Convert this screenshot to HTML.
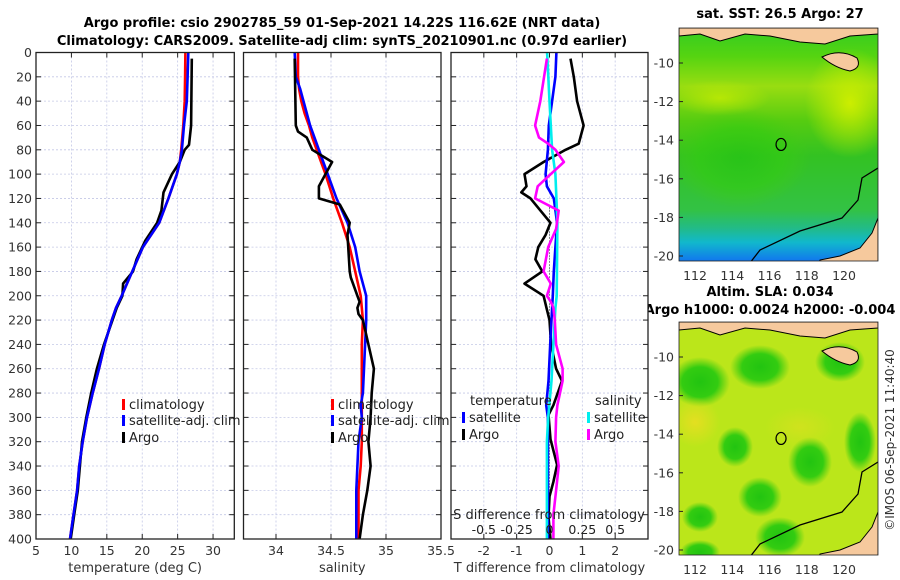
<!DOCTYPE html>
<html><head><meta charset="utf-8"><style>
body{margin:0;background:#fff;}
svg{display:block;font-family:"DejaVu Sans","Liberation Sans",sans-serif;}
</style></head><body>
<svg id="fig" width="900" height="580" viewBox="0 0 900 580" xmlns="http://www.w3.org/2000/svg">
<defs>
<linearGradient id="sstGrad" x1="0" y1="0" x2="0" y2="1">
<stop offset="0" stop-color="#33cc22"/><stop offset="0.12" stop-color="#55d411"/><stop offset="0.25" stop-color="#99dd11"/>
<stop offset="0.4" stop-color="#55cc11"/><stop offset="0.55" stop-color="#33c222"/><stop offset="0.78" stop-color="#33c244"/>
<stop offset="0.86" stop-color="#22bb88"/><stop offset="0.92" stop-color="#11b8cc"/><stop offset="1" stop-color="#1177ee"/>
</linearGradient>
<radialGradient id="yelBlob"><stop offset="0" stop-color="#ccee00"/><stop offset="1" stop-color="#ccee00" stop-opacity="0"/></radialGradient>
<radialGradient id="grnBlob"><stop offset="0" stop-color="#22c411"/><stop offset="0.6" stop-color="#33cc11"/><stop offset="1" stop-color="#44cc11" stop-opacity="0"/></radialGradient>
<radialGradient id="yBlob2"><stop offset="0" stop-color="#eedd22"/><stop offset="1" stop-color="#eedd22" stop-opacity="0"/></radialGradient>
<clipPath id="clipTop"><rect x="679" y="28" width="199" height="233"/></clipPath>
<clipPath id="clipBot"><rect x="679" y="322" width="199" height="233"/></clipPath>
</defs>
<g id="titles" font-weight="bold" font-size="13" text-anchor="middle">
<text x="342" y="27">Argo profile: csio 2902785_59 01-Sep-2021 14.22S 116.62E (NRT data)</text>
<text x="342" y="45">Climatology: CARS2009. Satellite-adj clim: synTS_20210901.nc (0.97d earlier)</text>
<text x="780" y="18">sat. SST: 26.5 Argo: 27</text>
<text x="770" y="296">Altim. SLA: 0.034</text>
<text x="770" y="314">Argo h1000: 0.0024 h2000: -0.004</text>
</g>
<g id="panels"></g>
<g id="maps"></g>
<text x="0" y="0" font-size="12" fill="#333" text-anchor="middle" transform="translate(894,440) rotate(-90)">©IMOS 06-Sep-2021 11:40:40</text>
</svg>
<script>
// ---- data ----
const tempClimDepth = [0,20,40,60,80,90,100,120,140,160,180,200,210,220,240,260,280,300,320,340,360,380,400];
const tempClim      = [26.1,26.05,26.0,25.8,25.5,25.3,24.9,23.7,22.4,20.1,18.6,17.1,16.3,15.7,14.7,13.9,13.0,12.2,11.6,11.1,10.8,10.3,9.8];
const tempSat       = [26.5,26.4,26.3,25.9,25.6,25.3,24.9,23.7,22.4,20.1,18.6,17.1,16.3,15.7,14.7,13.9,13.0,12.2,11.6,11.1,10.8,10.3,9.8];
const tempArgoDepth = [5,60,76,80,90,100,115,130,140,155,170,180,190,200,210,220,240,260,280,300,320,340,360,380,400];
const tempArgo      = [27.0,26.9,26.6,26.0,25.3,24.2,23.0,22.7,22.1,20.4,19.2,18.7,17.3,17.2,16.4,15.8,14.6,13.6,12.8,12.1,11.5,11.2,10.9,10.4,9.9];
const salDepth  = [0,20,30,40,50,60,70,80,90,100,120,140,160,180,200,210,220,240,260,280,290,300,320,340,360,380,400];
const salClim   = [34.20,34.20,34.21,34.23,34.26,34.30,34.33,34.37,34.41,34.45,34.52,34.60,34.67,34.72,34.77,34.78,34.79,34.78,34.78,34.78,34.78,34.78,34.78,34.77,34.75,34.75,34.75];
const salSat    = [34.17,34.18,34.22,34.25,34.28,34.31,34.35,34.39,34.43,34.47,34.55,34.65,34.72,34.76,34.82,34.82,34.82,34.81,34.80,34.79,34.77,34.78,34.75,34.74,34.73,34.73,34.73];
const salArgoDepth = [5,60,65,70,80,90,100,110,120,125,140,150,180,185,200,205,210,215,220,240,260,280,300,320,340,360,380,400];
const salArgo      = [34.17,34.18,34.20,34.28,34.33,34.51,34.45,34.39,34.39,34.58,34.67,34.65,34.67,34.68,34.74,34.76,34.74,34.75,34.79,34.84,34.89,34.87,34.86,34.84,34.86,34.83,34.79,34.76];
const dTDepth    = [5,20,40,60,75,80,90,100,110,115,120,140,150,160,170,180,190,200,210,220,240,260,270,280,290,298,318,339,353,365,382,400];
const dTArgo     = [0.64,0.74,0.84,1.04,0.89,0.49,-0.18,-0.76,-0.7,-0.86,-0.58,0.03,-0.12,-0.34,-0.43,-0.22,-0.76,-0.18,-0.09,0.0,0.05,0.2,0.38,0.25,0.12,-0.03,0.03,0.23,0.12,0.0,-0.03,0.03];
const dTSatDepth = [0,20,40,60,80,100,110,120,140,160,180,200,210,240,270,290,300,320,360,400];
const dTSat      = [0.21,0.18,0.08,-0.02,-0.05,-0.12,-0.08,0.13,0.23,0.18,0.13,0.1,0.08,0.02,-0.03,-0.1,-0.05,-0.05,-0.05,-0.05];
const dSSatDepth = [0,40,80,100,140,200,210,240,270,300,320,360,400];
const dSSat      = [-0.018,0.0,0.02,0.045,0.06,0.055,0.045,0.03,0.015,-0.01,-0.02,-0.02,-0.02];
const dSArgoDepth = [5,40,60,70,75,80,90,100,110,120,125,130,145,160,180,190,200,205,210,220,240,260,270,290,300,320,340,360,380,400];
const dSArgo      = [-0.02,-0.07,-0.11,-0.08,-0.01,0.045,0.11,0.01,-0.09,-0.11,-0.02,0.07,0.05,-0.01,-0.045,0.01,-0.02,0.01,0.03,0.04,0.05,0.1,0.1,0.06,0.05,0.045,0.07,0.05,0.03,0.03];
const depthTicks = [0,20,40,60,80,100,120,140,160,180,200,220,240,260,280,300,320,340,360,380,400];
const tempTicks = [5,10,15,20,25,30];
const salTicks = [34,34.5,35,35.5];
const dTTicks = [-2,-1,0,1,2];
const dSTicks = [-0.5,-0.25,0,0.25,0.5];
const dSTickLabels = ['-0.5','-0.25','0','0.25','0.5'];
const sstLatTicks = [-10,-12,-14,-16,-18,-20];
const lonTicks = [112,114,116,118,120];
const argoLon = 116.62, argoLat = -14.22;

const NS = 'http://www.w3.org/2000/svg';
function mk(parent, tag, attrs, text){
  const e = document.createElementNS(NS, tag);
  for (const k in attrs) e.setAttribute(k, attrs[k]);
  if (text !== undefined) e.textContent = text;
  parent.appendChild(e); return e;
}
const Y0 = 52.5, Y1 = 539;
const yD = d => Y0 + (d/400)*(Y1-Y0);
function lin(d0,d1,r0,r1){ return v => r0 + (v-d0)/(d1-d0)*(r1-r0); }

const panels = document.getElementById('panels');
function panel(name, x0, x1, xs, ticks, labels, xlabel, showY){
  const g = mk(panels,'g',{});
  
  
  mk(g,'rect',{x:x0,y:Y0,width:x1-x0,height:Y1-Y0,fill:'#fff'});
  depthTicks.forEach(d=>{
    if(d>0 && d<400){ const gl = mk(g,'line',{x1:x0,x2:x1,y1:yD(d),y2:yD(d),stroke:'#c4c8e6','stroke-width':0.8,'stroke-dasharray':'2,2'});
        }
    mk(g,'line',{x1:x0,x2:x0+5,y1:yD(d),y2:yD(d),stroke:'#222'});
    mk(g,'line',{x1:x1-5,x2:x1,y1:yD(d),y2:yD(d),stroke:'#222'});
    if(showY){ const t = mk(g,'text',{x:x0-4,y:yD(d)+4.5,'font-size':12.5,fill:'#333','text-anchor':'end'}, String(d));
        }
  });
  ticks.forEach((v,i)=>{
    const x = xs(v);
    if(x>x0+1 && x<x1-1){ mk(g,'line',{x1:x,x2:x,y1:Y0,y2:Y1,stroke:'#c4c8e6','stroke-width':0.8,'stroke-dasharray':'2,2'});
      mk(g,'line',{x1:x,x2:x,y1:Y1,y2:Y1-5,stroke:'#222'}); mk(g,'line',{x1:x,x2:x,y1:Y0,y2:Y0+5,stroke:'#222'}); }
    const t = mk(g,'text',{x:x,y:555,'font-size':12.5,fill:'#333','text-anchor':'middle'}, labels[i]);
     
  });
  const xl = mk(g,'text',{x:(x0+x1)/2,y:572,'font-size':13,fill:'#333','text-anchor':'middle'}, xlabel);
   
  return g;
}
function line(g, name, xsArr, ds, xs, color, w){
  const pts = ds.map((d,i)=> xs(xsArr[i]).toFixed(1)+','+yD(d).toFixed(1)).join(' ');
  const p = mk(g,'polyline',{points:pts,fill:'none',stroke:color,'stroke-width':w||2.6,'stroke-linejoin':'round'});
  
  
}
function frame(g,x0,x1){ mk(g,'rect',{x:x0,y:Y0,width:x1-x0,height:Y1-Y0,fill:'none',stroke:'#222','stroke-width':1.3}); }
function legendEntry(g, x, y, color, label){
  const e = mk(g,'g',{});
  
  
  mk(e,'rect',{x:x,y:y-10,width:3,height:11,fill:color});
  mk(e,'text',{x:x+7,y:y,'font-size':13,fill:'#222'}, label);
}

// Panel 1
const xT = lin(5,33,36,234.3);
const g1 = panel('temperature-panel',36,234.3,xT,tempTicks,tempTicks.map(String),'temperature (deg C)',true);
line(g1,'temperature-climatology-line',tempClim,tempClimDepth,xT,'#ff0000');
line(g1,'temperature-argo-line',tempArgo,tempArgoDepth,xT,'#000000');
line(g1,'temperature-satellite-line',tempSat,tempClimDepth,xT,'#0000ff');
frame(g1,36,234.3);
legendEntry(g1,122,409,'#ff0000','climatology');
legendEntry(g1,122,425,'#0000ff','satellite-adj. clim');
legendEntry(g1,122,442,'#000000','Argo');

// Panel 2
const xS = lin(34,35.5,276,441);
const g2 = panel('salinity-panel',243.5,441,xS,salTicks,['34','34.5','35','35.5'],'salinity',false);
line(g2,'salinity-climatology-line',salClim,salDepth,xS,'#ff0000');
line(g2,'salinity-satellite-line',salSat,salDepth,xS,'#0000ff');
line(g2,'salinity-argo-line',salArgo,salArgoDepth,xS,'#000000');
frame(g2,243.5,441);
legendEntry(g2,331,409,'#ff0000','climatology');
legendEntry(g2,331,425,'#0000ff','satellite-adj. clim');
legendEntry(g2,331,442,'#000000','Argo');

// Panel 3
const xDT = lin(-3,3,451,648);
const xDS = lin(-0.75,0.75,451,648);
const g3 = panel('difference-panel',451,648,xDT,dTTicks,dTTicks.map(String),'T difference from climatology',false);
const zl = mk(g3,'line',{x1:xDT(0),x2:xDT(0),y1:yD(125),y2:Y1,stroke:'#333','stroke-width':1,'stroke-dasharray':'1,2'});
 
line(g3,'t-diff-argo-line',dTArgo,dTDepth,xDT,'#000000');
line(g3,'t-diff-satellite-line',dTSat,dTSatDepth,xDT,'#0000ff');
line(g3,'s-diff-satellite-line',dSSat,dSSatDepth,xDS,'#00eeee');
line(g3,'s-diff-argo-line',dSArgo,dSArgoDepth,xDS,'#ff00ff');
frame(g3,451,648);
mk(g3,'text',{x:470,y:405,'font-size':13,fill:'#222'},'temperature');
legendEntry(g3,462,422,'#0000ff','satellite');
legendEntry(g3,462,439,'#000000','Argo');
mk(g3,'text',{x:595,y:405,'font-size':13,fill:'#222'},'salinity');
legendEntry(g3,587,422,'#00eeee','satellite');
legendEntry(g3,587,439,'#ff00ff','Argo');
const st = mk(g3,'text',{x:549,y:519,'font-size':13,fill:'#222','text-anchor':'middle'},'S difference from climatology');
 
dSTicks.forEach((v,i)=>{
  const t = mk(g3,'text',{x:xDS(v),y:534,'font-size':12.5,fill:'#222','text-anchor':'middle'},dSTickLabels[i]);
   
});

// Maps
const maps = document.getElementById('maps');
const lonX = lin(112,120,695,844);
function map(name, top, latTop, clipId, kind){
  const latY = lin(-10,-20,top+35,top+228);
  const g = mk(maps,'g',{});
  
  
  const c = mk(g,'g',{'clip-path':'url(#'+clipId+')'});
  if(kind==='sst'){
    mk(c,'rect',{x:679,y:top,width:199,height:233,fill:'url(#sstGrad)'});
    mk(c,'ellipse',{cx:850,cy:top+75,rx:45,ry:55,fill:'url(#yelBlob)'});
    mk(c,'ellipse',{cx:720,cy:top+70,rx:50,ry:18,fill:'url(#yelBlob)',opacity:0.7});
    mk(c,'ellipse',{cx:740,cy:top+130,rx:70,ry:50,fill:'url(#grnBlob)',opacity:0.6});
  } else {
    mk(c,'rect',{x:679,y:top,width:199,height:233,fill:'#bbe61a'});
    [[700,60,30,25],[760,45,30,22],[840,40,25,20],[735,125,18,20],[810,140,22,25],[760,175,22,20],[700,195,18,15],[780,215,25,20],[860,120,16,30],[700,230,20,12]].forEach(b=>{
      mk(c,'ellipse',{cx:b[0],cy:top+b[1],rx:b[2],ry:b[3],fill:'url(#grnBlob)'});
    });
    mk(c,'ellipse',{cx:695,cy:top+100,rx:25,ry:25,fill:'url(#yBlob2)',opacity:0.8});
    mk(c,'ellipse',{cx:800,cy:top+105,rx:35,ry:20,fill:'url(#yBlob2)',opacity:0.4});
  }
  // islands (north) and Australia coast
  mk(c,'path',{d:`M679 ${top} L878 ${top} L878 ${top+6} L850 ${top+8} L825 ${top+16} L800 ${top+14} L770 ${top+8} L745 ${top+6} L720 ${top+13} L700 ${top+6} L679 ${top+8} Z`,fill:'#f6c99d',stroke:'#000','stroke-width':1});
  mk(c,'path',{d:`M822 ${top+29} Q840 ${top+20} 857 ${top+30} Q862 ${top+40} 850 ${top+43} Q835 ${top+40} 822 ${top+29} Z`,fill:'#f6c99d',stroke:'#000','stroke-width':1});
  mk(c,'path',{d:`M878 ${top+190} L872 ${top+205} L860 ${top+220} L840 ${top+228} L820 ${top+232} L818 ${top+240} L878 ${top+240} Z`,fill:'#f6c99d',stroke:'#000','stroke-width':1});
  mk(c,'path',{d:`M746 ${top+240} L760 ${top+222} L800 ${top+203} L842 ${top+190} L858 ${top+172} L862 ${top+150} L878 ${top+140}`,fill:'none',stroke:'#000','stroke-width':1.3});
  mk(g,'rect',{x:679,y:top,width:199,height:233,fill:'none',stroke:'#222','stroke-width':0.8});
  sstLatTicks.forEach(v=>{
    const y = latY(v);
    mk(g,'line',{x1:679,x2:683,y1:y,y2:y,stroke:'#222'});
    const t = mk(g,'text',{x:674,y:y+4.5,'font-size':12.5,fill:'#333','text-anchor':'end'},String(v));
     
  });
  lonTicks.forEach(v=>{
    const x = lonX(v);
    const t = mk(g,'text',{x:x,y:top+252,'font-size':12.5,fill:'#333','text-anchor':'middle'},String(v));
     
  });
  const m = mk(g,'ellipse',{cx:lonX(argoLon),cy:latY(argoLat),rx:5,ry:6,fill:'none',stroke:'#000','stroke-width':1.2});
  
  
}
map('sst-map',28,-8.2,'clipTop','sst');
map('sla-map',322,-8.2,'clipBot','sla');
</script>
</body></html>
